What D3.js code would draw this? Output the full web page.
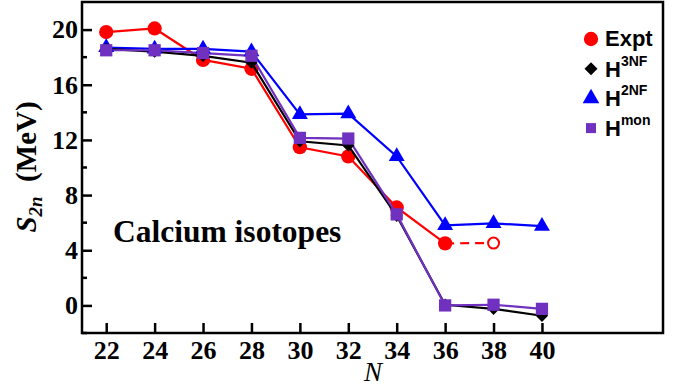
<!DOCTYPE html>
<html>
<head>
<meta charset="utf-8">
<script src="https://cdn.jsdelivr.net/npm/d3@7"></script>
<style>
  body { margin: 0; background: #fff; }
  svg { display: block; }
</style>
</head>
<body>
<svg width="685" height="387"></svg>
<script>
// neutron numbers
const neutrons = [22, 24, 26, 28, 30, 32, 34, 36, 38, 40];
// two-neutron separation energies (MeV)
const expt = [19.82, 20.08, 17.8, 17.16, 11.47, 10.8, 7.1, 4.5];
const exptExtrap = [4.5, 4.52]; // N=36 -> 38, dashed / open circle
const h3nf = [18.6, 18.4, 18.1, 17.6, 11.9, 11.6, 6.5, 0.05, -0.25, -0.75];
const h2nf = [18.7, 18.6, 18.6, 18.4, 13.85, 13.9, 10.8, 5.8, 5.95, 5.75];
const hmon = [18.5, 18.5, 18.3, 18.1, 12.15, 12.1, 6.6, 0.0, 0.05, -0.25];
const xTicks = [22, 24, 26, 28, 30, 32, 34, 36, 38, 40];
const yTicks = [0, 4, 8, 12, 16, 20];
const yMinor = [-2, 2, 6, 10, 14, 18];

const svg = d3.select("svg");
const margin = {left: 82, top: 2, right: 22, bottom: 54};
const W = 685, H = 387;

const x = d3.scaleLinear().domain([21, 45]).range([margin.left, W - margin.right]);
const y = d3.scaleLinear().domain([-2, 22]).range([H - margin.bottom, margin.top]);

const serif = "'Liberation Serif', 'Times New Roman', serif";
const sans = "'Liberation Sans', Arial, sans-serif";

// frame
svg.append("rect")
    .attr("x", x(21)).attr("y", y(22))
    .attr("width", x(45) - x(21)).attr("height", y(-2) - y(22))
    .attr("fill", "none").attr("stroke", "#000").attr("stroke-width", 2.5);

// x axis
const xAxis = svg.append("g")
    .attr("transform", `translate(0,${y(-2)})`)
    .call(d3.axisBottom(x).tickValues(xTicks).tickSize(-10).tickPadding(8).tickFormat(d3.format("d")));
xAxis.select(".domain").remove();
xAxis.selectAll("line").attr("stroke-width", 2.5);
xAxis.selectAll("text")
    .attr("font-family", serif).attr("font-weight", "bold").attr("font-size", 26).attr("fill", "#000");

// y axis
const yAxis = svg.append("g")
    .attr("transform", `translate(${x(21)},0)`)
    .call(d3.axisLeft(y).tickValues(yTicks).tickSize(-10).tickPadding(4).tickFormat(d3.format("d")));
yAxis.select(".domain").remove();
yAxis.selectAll("line").attr("stroke-width", 2.5);
yAxis.selectAll("text")
    .attr("font-family", serif).attr("font-weight", "bold").attr("font-size", 26).attr("fill", "#000");

svg.append("g").selectAll("line").data(yMinor).join("line")
    .attr("x1", x(21)).attr("x2", x(21) + 5)
    .attr("y1", d => y(d)).attr("y2", d => y(d))
    .attr("stroke", "#000").attr("stroke-width", 2.5);

// axis titles
svg.append("text")
    .attr("x", 373).attr("y", 381)
    .attr("text-anchor", "middle")
    .attr("font-family", serif).attr("font-style", "italic")
    .attr("font-size", 27).text("N");

const yt = svg.append("text")
    .attr("transform", "translate(36,167) rotate(-90)")
    .attr("text-anchor", "middle")
    .attr("font-family", serif).attr("font-weight", "bold").attr("font-size", 29);
yt.append("tspan").attr("font-style", "italic").text("S");
yt.append("tspan").attr("font-style", "italic").attr("font-size", 19).attr("dy", 6).text("2n");
yt.append("tspan").attr("dy", -6).text("\u2002(MeV)");

svg.append("text")
    .attr("x", 113).attr("y", 242)
    .attr("font-family", serif).attr("font-weight", "bold").attr("font-size", 31.5)
    .text("Calcium isotopes");

const line = d3.line().x(d => x(d[0])).y(d => y(d[1]));

function series(vals, color) {
    const pts = vals.map((v, i) => [neutrons[i], v]);
    svg.append("path").datum(pts)
        .attr("d", line).attr("fill", "none")
        .attr("stroke", color).attr("stroke-width", 2.2);
    return pts;
}

const sym = {
    circle: d3.symbol().type(d3.symbolCircle).size(160),
    diamond: d3.symbol().type(d3.symbolSquare).size(75),
    triangle: d3.symbol().type(d3.symbolTriangle).size(110),
    square: d3.symbol().type(d3.symbolSquare).size(150)
};

function markers(pts, shape, color, rot) {
    svg.append("g").selectAll("path").data(pts).join("path")
        .attr("d", sym[shape])
        .attr("transform", d => `translate(${x(d[0])},${y(d[1])})${rot ? " rotate(45)" : ""}`)
        .attr("fill", color);
}

// experiment
const ePts = series(expt, "#ff0000");
svg.append("path")
    .datum(exptExtrap.map((v, i) => [36 + 2 * i, v]))
    .attr("d", line).attr("fill", "none").attr("stroke", "#ff0000")
    .attr("stroke-width", 2.2).attr("stroke-dasharray", "9,6");
markers(ePts, "circle", "#ff0000");
svg.append("circle")
    .attr("cx", x(38)).attr("cy", y(exptExtrap[1])).attr("r", 5.5)
    .attr("fill", "#fff").attr("stroke", "#ff0000").attr("stroke-width", 2);

const bPts = series(h2nf, "#0000ff");
const kPts = series(h3nf, "#000000");
const pPts = series(hmon, "#7030c0");
markers(bPts, "triangle", "#0000ff");
markers(kPts, "diamond", "#000000", true);
markers(pPts, "square", "#7030c0");

// legend
const legend = [
    {label: "Expt", sup: "", shape: "circle", color: "#ff0000"},
    {label: "H", sup: "3NF", shape: "diamond", color: "#000000"},
    {label: "H", sup: "2NF", shape: "triangle", color: "#0000ff"},
    {label: "H", sup: "mon", shape: "square", color: "#7030c0"}
];
const legendSym = {
    circle: d3.symbol().type(d3.symbolCircle).size(160),
    diamond: d3.symbol().type(d3.symbolSquare).size(85),
    triangle: d3.symbol().type(d3.symbolTriangle).size(120),
    square: d3.symbol().type(d3.symbolSquare).size(100)
};
const lg = svg.append("g").selectAll("g").data(legend).join("g")
    .attr("transform", (d, i) => `translate(591,${39 + i * 29.7})`);
lg.append("path")
    .attr("d", d => legendSym[d.shape]())
    .attr("transform", d => d.shape === "diamond" ? "rotate(45)" : null)
    .attr("fill", d => d.color);
const lt = lg.append("text")
    .attr("x", 14).attr("y", d => d.sup ? 8 : 7)
    .attr("font-family", sans).attr("font-weight", "bold").attr("font-size", 22);
lt.append("tspan").text(d => d.label);
lt.append("tspan").attr("dy", -11).attr("font-size", 14).text(d => d.sup);
</script>
</body>
</html>
